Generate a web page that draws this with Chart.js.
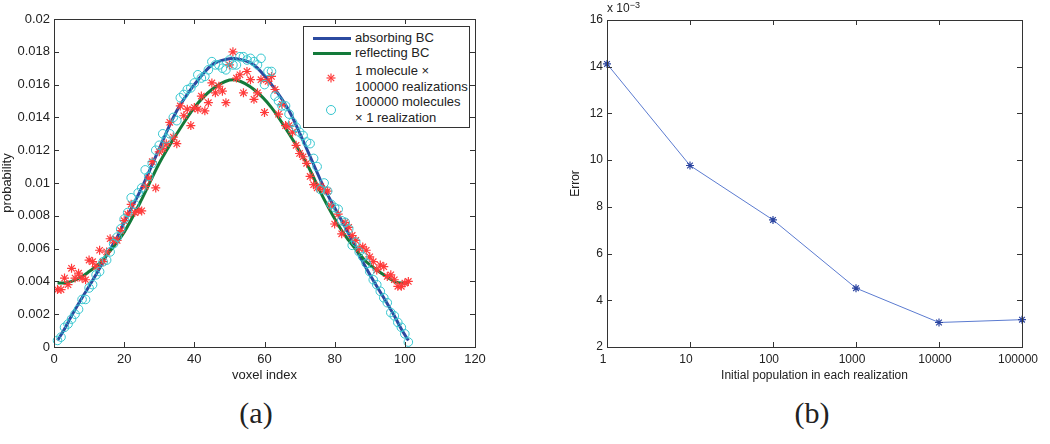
<!DOCTYPE html>
<html>
<head>
<meta charset="utf-8">
<script src="https://cdn.jsdelivr.net/npm/chart.js@4.4.1/dist/chart.umd.min.js"></script>
<style>
  body { margin:0; background:#fff; width:1050px; height:444px; overflow:hidden; position:relative;
         font-family:"Liberation Sans", Arial, sans-serif; color:#222; }
  .abs { position:absolute; }
  #chartA { left:0; top:0; }
  #chartB { left:568px; top:0; }
  .cap { font-family:"Liberation Serif","DejaVu Serif",serif; font-size:30px; transform:translate(-50%,-50%); white-space:nowrap; }
  #legendA { left:303px; top:26px; width:165px; height:100px; border:1px solid #333; background:#fff; font-size:13px; }
  #legendA .t { position:absolute; left:51px; line-height:16px; white-space:nowrap; }
  #legendA .ln { position:absolute; left:9px; width:38px; height:3px; }
  #exp { left:607px; top:1px; font-size:12px; line-height:14px; white-space:nowrap; }
  #exp sup { font-size:9px; position:relative; top:-3px; vertical-align:top; }
</style>
</head>
<body>
<canvas id="chartA" class="abs" width="500" height="383"></canvas>
<canvas id="chartB" class="abs" width="482" height="383"></canvas>

<div id="legendA" class="abs">
  <div class="ln" style="top:10px;background:#2b4aa0"></div>
  <div class="t" style="top:3px">absorbing BC</div>
  <div class="ln" style="top:25px;background:#137a3a"></div>
  <div class="t" style="top:18px">reflecting BC</div>
  <svg class="abs" style="left:22px;top:46px" width="10" height="10" viewBox="0 0 10 10">
    <g stroke="#ff3b3b" stroke-width="1.2"><line x1="5" y1="0.5" x2="5" y2="9.5"/><line x1="0.5" y1="5" x2="9.5" y2="5"/>
    <line x1="1.8" y1="1.8" x2="8.2" y2="8.2"/><line x1="8.2" y1="1.8" x2="1.8" y2="8.2"/></g></svg>
  <div class="t" style="top:36px">1 molecule ×<br>100000 realizations</div>
  <svg class="abs" style="left:21px;top:77px" width="12" height="12" viewBox="0 0 12 12">
    <circle cx="6" cy="6" r="4.5" fill="none" stroke="#35c6cf" stroke-width="1"/></svg>
  <div class="t" style="top:67px">100000 molecules<br>× 1 realization</div>
</div>

<div id="exp" class="abs">x 10<sup>−3</sup></div>
<div class="abs cap" style="left:256px;top:413px">(a)</div>
<div class="abs cap" style="left:812px;top:413px">(b)</div>

<script>
// ---- panel (a): probability per voxel ----
const voxels = Array.from({length: 101}, (_, i) => i + 1);

const curveX = [1, 3, 5, 8, 10, 13, 15, 18, 20, 25, 30, 35, 40, 45, 50, 51, 52,
  57, 62, 67, 72, 77, 82, 84, 87, 89, 92, 94, 97, 99, 101];
const absorbing = [0.0004, 0.0011, 0.0019, 0.0030, 0.0037, 0.0048, 0.0056, 0.0067, 0.0076,
  0.0097, 0.0121, 0.0144, 0.0160, 0.0172, 0.01758, 0.0176, 0.01758,
  0.0172, 0.0160, 0.0144, 0.0121, 0.0097, 0.0077, 0.0069, 0.0056, 0.0048, 0.0037, 0.0030,
  0.0019, 0.0011, 0.0004];
const reflecting = [0.0039, 0.0039, 0.0040, 0.0043, 0.0046, 0.0051, 0.0056, 0.0064, 0.0070,
  0.0090, 0.0112, 0.0130, 0.0146, 0.0157, 0.01628, 0.0163, 0.01628,
  0.0157, 0.0146, 0.0130, 0.0112, 0.0090, 0.0071, 0.0065, 0.0057, 0.0052, 0.0047, 0.0044,
  0.0040, 0.0039, 0.0039];

const oneMolecule = [
  0.0035, 0.0035, 0.0042, 0.0038, 0.0048, 0.0042, 0.0045, 0.0042, 0.0041, 0.0053,
  0.0052, 0.0049, 0.0059, 0.0052, 0.0058, 0.0066, 0.0065, 0.0065, 0.0071, 0.0077,
  0.0081, 0.0087, 0.0082, 0.0083, 0.0083, 0.0098, 0.0103, 0.0113, 0.0097, 0.0119,
  0.0121, 0.0124, 0.0137, 0.0128, 0.0124, 0.0147, 0.0141, 0.0145, 0.0135, 0.0146,
  0.0145, 0.0153, 0.0144, 0.0149, 0.0161, 0.0155, 0.0159, 0.0156, 0.0149, 0.0172,
  0.0180, 0.0164, 0.0166, 0.0155, 0.0168, 0.0163, 0.0151, 0.0155, 0.0163, 0.0143,
  0.0162, 0.0165, 0.0157, 0.0142, 0.0148, 0.0135, 0.0135, 0.0131, 0.0123, 0.0118,
  0.0116, 0.0112, 0.0104, 0.0099, 0.0097, 0.0098, 0.0096, 0.0095, 0.0086, 0.0075,
  0.0081, 0.0069, 0.0076, 0.0073, 0.0068, 0.0065, 0.0060, 0.0061, 0.0059, 0.0055,
  0.0052, 0.0047, 0.0050, 0.0049, 0.0043, 0.0044, 0.0041, 0.0037, 0.0037, 0.0039,
  0.0040];
const manyMolecules = [
  0.0004, 0.0006, 0.0012, 0.0014, 0.0017, 0.0020, 0.0023, 0.0029, 0.0029, 0.0036,
  0.0038, 0.0044, 0.0046, 0.0052, 0.0053, 0.0058, 0.0063, 0.0067, 0.0072, 0.0078,
  0.0082, 0.0091, 0.0087, 0.0094, 0.0097, 0.0108, 0.0104, 0.0112, 0.0120, 0.0123,
  0.0130, 0.0127, 0.0130, 0.0140, 0.0138, 0.0152, 0.0154, 0.0157, 0.0158, 0.0161,
  0.0166, 0.0164, 0.0165, 0.0169, 0.0174, 0.0172, 0.0172, 0.0170, 0.0169, 0.0175,
  0.0172, 0.0172, 0.0177, 0.0177, 0.0175, 0.0176, 0.0174, 0.0172, 0.0176, 0.0160,
  0.0168, 0.0168, 0.0153, 0.0150, 0.0147, 0.0147, 0.0142, 0.0137, 0.0134, 0.0131,
  0.0129, 0.0125, 0.0124, 0.0115, 0.0110, 0.0096, 0.0100, 0.0095, 0.0087, 0.0085,
  0.0084, 0.0077, 0.0076, 0.0072, 0.0062, 0.0064, 0.0058, 0.0055, 0.0051, 0.0046,
  0.0041, 0.0038, 0.0034, 0.0030, 0.0027, 0.0021, 0.0019, 0.0015, 0.0012, 0.0008,
  0.0003];

const voxelTicks = [0, 20, 40, 60, 80, 100, 120];
const probTicks = [0, 0.002, 0.004, 0.006, 0.008, 0.01, 0.012, 0.014, 0.016, 0.018, 0.02];
const probLabels = ['0', '0.002', '0.004', '0.006', '0.008', '0.01', '0.012', '0.014', '0.016', '0.018', '0.02'];

// ---- panel (b): error vs population ----
const population = [1, 10, 100, 1000, 10000, 100000];
const errorVals = [14.12, 9.77, 7.44, 4.52, 3.05, 3.17];   // x 10^-3
const popTicks = [1, 10, 100, 1000, 10000, 100000];
const popLabels = ['1', '10', '100', '1000', '10000', '100000'];
const errTicks = [2, 4, 6, 8, 10, 12, 14, 16];

const FONT = '"Liberation Sans", Arial, sans-serif';
const INK = '#222';

// matlab style box with inward ticks on all four sides
const boxTicks = {
  id: 'boxTicks',
  afterDatasetsDraw(chart) {
    const {ctx, chartArea: a, scales} = chart;
    const len = 5;
    ctx.save();
    ctx.strokeStyle = '#333';
    ctx.lineWidth = 1;
    ctx.beginPath();
    scales.x.ticks.forEach(t => {
      const px = Math.round(scales.x.getPixelForValue(t.value)) + 0.5;
      if (px <= a.left + 1 || px >= a.right - 1) return;
      ctx.moveTo(px, a.bottom); ctx.lineTo(px, a.bottom - len);
      ctx.moveTo(px, a.top); ctx.lineTo(px, a.top + len);
    });
    scales.y.ticks.forEach(t => {
      const py = Math.round(scales.y.getPixelForValue(t.value)) + 0.5;
      if (py <= a.top + 1 || py >= a.bottom - 1) return;
      ctx.moveTo(a.left, py); ctx.lineTo(a.left + len, py);
      ctx.moveTo(a.right, py); ctx.lineTo(a.right - len, py);
    });
    ctx.stroke();
    ctx.strokeRect(Math.round(a.left) + 0.5, Math.round(a.top) + 0.5,
      Math.round(a.right - a.left), Math.round(a.bottom - a.top));
    ctx.restore();
  }
};

function axis(opts) {
  return Object.assign({
    grid: {display: false, drawTicks: false},
    border: {display: false},
  }, opts);
}

new Chart(document.getElementById('chartA'), {
  type: 'scatter',
  data: {
    datasets: [
      {
        label: 'absorbing BC', showLine: true, order: 4,
        data: curveX.map((x, i) => ({x: x, y: absorbing[i]})),
        borderColor: '#2b4aa0', borderWidth: 3, pointRadius: 0,
        cubicInterpolationMode: 'monotone',
      },
      {
        label: 'reflecting BC', showLine: true, order: 3,
        data: curveX.map((x, i) => ({x: x, y: reflecting[i]})),
        borderColor: '#137a3a', borderWidth: 3, pointRadius: 0,
        cubicInterpolationMode: 'monotone',
      },
      {
        label: '1 molecule × 100000 realizations', order: 2,
        data: voxels.map((x, i) => ({x: x, y: oneMolecule[i]})),
        pointStyle: 'star', pointRadius: 4.5, borderWidth: 1.2,
        borderColor: '#ff3b3b', backgroundColor: '#ff3b3b',
      },
      {
        label: '100000 molecules × 1 realization', order: 1, clip: false,
        data: voxels.map((x, i) => ({x: x, y: manyMolecules[i]})),
        pointStyle: 'circle', pointRadius: 4.3, borderWidth: 1,
        borderColor: '#35c6cf', backgroundColor: 'rgba(0,0,0,0)',
      },
    ]
  },
  options: {
    responsive: false, animation: false, events: [],
    layout: {padding: {top: 19, right: 25, left: 0, bottom: 0}},
    plugins: {legend: {display: false}, tooltip: {enabled: false}},
    scales: {
      x: axis({
        type: 'linear', min: 0, max: 120,
        afterBuildTicks: s => { s.ticks = voxelTicks.map(v => ({value: v})); },
        afterFit: s => { s.height = 36; },
        ticks: {font: {family: FONT, size: 13}, color: INK, padding: 5, maxRotation: 0, autoSkip: false},
        title: {display: true, text: 'voxel index', font: {family: FONT, size: 13}, color: INK, padding: 0},
      }),
      y: axis({
        type: 'linear', min: 0, max: 0.02,
        afterBuildTicks: s => { s.ticks = probTicks.map(v => ({value: v})); },
        afterFit: s => { s.width = 54; },
        ticks: {font: {family: FONT, size: 13}, color: INK, padding: 4, autoSkip: false,
          callback: (v, i) => probLabels[i]},
        title: {display: true, text: 'probability', font: {family: FONT, size: 13}, color: INK, padding: 0},
      }),
    }
  },
  plugins: [boxTicks]
});

new Chart(document.getElementById('chartB'), {
  type: 'scatter',
  data: {
    datasets: [{
      label: 'Error', showLine: true, clip: false,
      data: population.map((x, i) => ({x: x, y: errorVals[i]})),
      borderColor: '#5b7bd0', borderWidth: 1, tension: 0,
      pointStyle: 'star', pointRadius: 4, pointBorderWidth: 1.2,
      pointBorderColor: '#2c45a0', pointBackgroundColor: '#2c45a0',
    }]
  },
  options: {
    responsive: false, animation: false, events: [],
    layout: {padding: {top: 20, right: 28, left: 0, bottom: 0}},
    plugins: {legend: {display: false}, tooltip: {enabled: false}},
    scales: {
      x: axis({
        type: 'logarithmic', min: 1, max: 100000,
        afterBuildTicks: s => { s.ticks = popTicks.map(v => ({value: v})); },
        afterFit: s => { s.height = 36; },
        ticks: {font: {family: FONT, size: 12}, color: INK, padding: 5, maxRotation: 0, autoSkip: false,
          labelOffset: -4, callback: (v, i) => popLabels[i]},
        title: {display: true, text: 'Initial population in each realization', font: {family: FONT, size: 12}, color: INK, padding: 0},
      }),
      y: axis({
        type: 'linear', min: 2, max: 16,
        afterBuildTicks: s => { s.ticks = errTicks.map(v => ({value: v})); },
        afterFit: s => { s.width = 39; },
        ticks: {font: {family: FONT, size: 12}, color: INK, padding: 4, autoSkip: false},
        title: {display: true, text: 'Error', font: {family: FONT, size: 12}, color: INK, padding: 0},
      }),
    }
  },
  plugins: [boxTicks]
});
</script>
</body>
</html>
